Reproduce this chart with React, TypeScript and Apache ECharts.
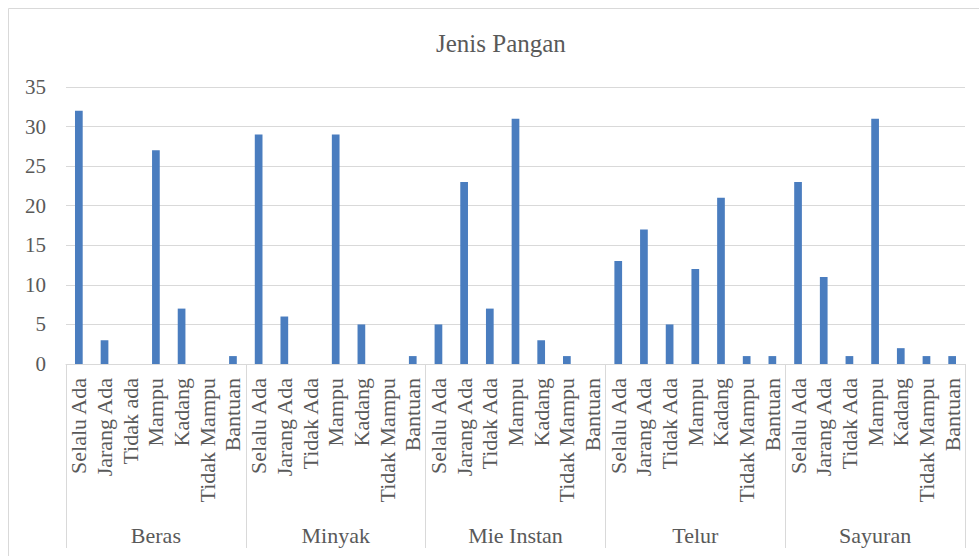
import React, { useEffect, useRef } from "react";
import * as echarts from "echarts";

const groups = ["Beras", "Minyak", "Mie Instan", "Telur", "Sayuran"];
const subLabels: string[][] = [
  ["Selalu Ada", "Jarang Ada", "Tidak ada", "Mampu", "Kadang", "Tidak Mampu", "Bantuan"],
  ["Selalu Ada", "Jarang Ada", "Tidak Ada", "Mampu", "Kadang", "Tidak Mampu", "Bantuan"],
  ["Selalu Ada", "Jarang Ada", "Tidak Ada", "Mampu", "Kadang", "Tidak Mampu", "Bantuan"],
  ["Selalu Ada", "Jarang Ada", "Tidak Ada", "Mampu", "Kadang", "Tidak Mampu", "Bantuan"],
  ["Selalu Ada", "Jarang Ada", "Tidak Ada", "Mampu", "Kadang", "Tidak Mampu", "Bantuan"],
];
const berasValues = [32, 3, 0, 27, 7, 0, 1];
const minyakValues = [29, 6, 0, 29, 5, 0, 1];
const mieValues = [5, 23, 7, 31, 3, 1, 0];
const telurValues = [13, 17, 5, 12, 21, 1, 1];
const sayuranValues = [23, 11, 1, 31, 2, 1, 1];
const yTicks = { min: 0, max: 35, interval: 5 };

const FONT = "Times New Roman, Liberation Serif, DejaVu Serif, serif";
const TEXT = "#595959";
const LINE = "#d9d9d9";

export default function App() {
  const ref = useRef<HTMLDivElement>(null);
  useEffect(() => {
    if (!ref.current) return;
    const chart = echarts.init(ref.current, undefined, { renderer: "svg" });
    const categories: string[] = [];
    subLabels.forEach((arr) => arr.forEach((s) => categories.push(s)));
    const values = [
      ...berasValues,
      ...minyakValues,
      ...mieValues,
      ...telurValues,
      ...sayuranValues,
    ];
    chart.setOption({
      animation: false,
      backgroundColor: "#ffffff",
      textStyle: { fontFamily: FONT },
      title: {
        text: "Jenis Pangan",
        left: 436,
        top: 31,
        padding: 0,
        textStyle: { fontFamily: FONT, fontSize: 25, fontWeight: "normal", color: TEXT },
      },
      graphic: [
        {
          type: "rect",
          shape: { x: 8.5, y: 8.5, width: 1000, height: 600 },
          style: { fill: "none", stroke: LINE, lineWidth: 1 },
          silent: true,
        },
      ],
      grid: { left: 66, right: 14, top: 87, bottom: 192, containLabel: false },
      xAxis: [
        {
          type: "category",
          data: categories,
          position: "bottom",
          axisLine: { show: true, lineStyle: { color: LINE, width: 1 } },
          axisTick: { show: false },
          axisLabel: {
            interval: 0,
            rotate: 90,
            margin: 14,
            fontFamily: FONT,
            fontSize: 22,
            color: TEXT,
          },
        },
        {
          type: "category",
          data: groups,
          position: "bottom",
          offset: 0,
          axisLine: { show: false },
          axisTick: { show: true, length: 184, interval: 0, lineStyle: { color: LINE, width: 1 } },
          axisLabel: {
            interval: 0,
            margin: 160,
            fontFamily: FONT,
            fontSize: 22,
            color: TEXT,
          },
        },
      ],
      yAxis: {
        type: "value",
        min: yTicks.min,
        max: yTicks.max,
        interval: yTicks.interval,
        axisLine: { show: false },
        axisTick: { show: false },
        splitLine: { show: true, lineStyle: { color: LINE, width: 1 } },
        axisLabel: { margin: 20, fontFamily: FONT, fontSize: 21, color: TEXT },
      },
      series: [
        {
          type: "bar",
          xAxisIndex: 0,
          data: values,
          barWidth: "30%",
          itemStyle: { color: "#4a7dbf" },
        },
      ],
    });
    return () => chart.dispose();
  }, []);
  return (
    <div
      ref={ref}
      style={{ position: "absolute", left: 0, top: 0, width: 979, height: 556 }}
    />
  );
}
